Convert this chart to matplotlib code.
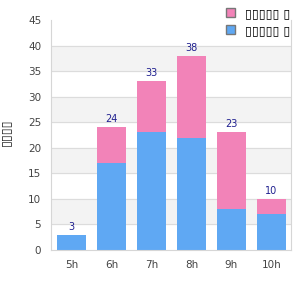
import matplotlib
matplotlib.use('Agg')
import matplotlib.pyplot as plt
import numpy as np
from matplotlib.patches import Patch

# data
hours = ['5h', '6h', '7h', '8h', '9h', '10h']
blue_vals = [3, 17, 23, 22, 8, 7]
pink_vals = [0, 7, 10, 16, 15, 3]
legend_labels = ['▯▯▯▯▯ ▯', '▯▯▯▯▯ ▯']
ylabel = '▯▯▯▯'

blue = '#5fa8f3'
pink = '#f283b8'
label_color = '#1f1f8f'

fig = plt.figure(figsize=(3, 3), dpi=100)
ax = fig.add_axes([0.17, 0.1667, 0.80, 0.7667])

x = np.arange(len(hours))
totals = np.array(blue_vals) + np.array(pink_vals)

# 交替背景带
for lo in range(5, 45, 10):
    ax.axhspan(lo, lo + 5, color='#f3f3f3', zorder=0)
for y in range(5, 45, 5):
    ax.axhline(y, color='#dcdcdc', linewidth=0.8, zorder=1)

ax.bar(x, blue_vals, width=0.72, color=blue, zorder=2)
ax.bar(x, pink_vals, width=0.72, bottom=blue_vals, color=pink, zorder=2)

for xi, t in zip(x, totals):
    ax.text(xi, t + 0.6, str(t), ha='center', va='bottom', fontsize=7, color=label_color)

ax.set_xlim(-0.51, 5.49)
ax.set_ylim(0, 45)
ax.set_yticks(range(0, 46, 5))
ax.set_xticks(x)
ax.set_xticklabels(hours)
ax.tick_params(length=0, labelsize=7.5, colors='#444444', pad=7)
for s in ax.spines.values():
    s.set_color('#d6d6d6')
ax.spines['top'].set_visible(False)

fig.text(0.018, 0.56, ylabel, rotation=90, ha='center', va='center', fontsize=9, color='#222222')

handles = [Patch(facecolor=pink, edgecolor='#777777'), Patch(facecolor=blue, edgecolor='#777777')]
fig.legend(handles, legend_labels, loc='upper left', bbox_to_anchor=(0.715, 1.015),
           frameon=False, fontsize=9, handlelength=0.75, handleheight=0.75,
           handletextpad=0.8, labelspacing=0.35)

fig.savefig('out.png', dpi=100)
